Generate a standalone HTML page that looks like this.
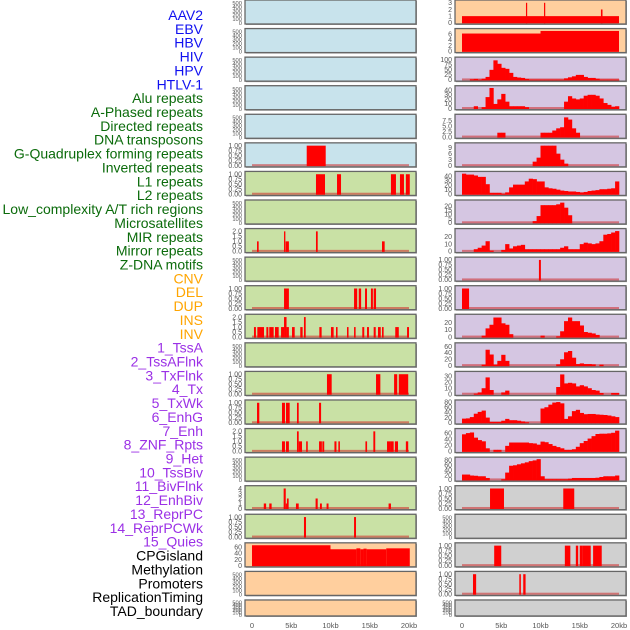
<!DOCTYPE html>
<html><head><meta charset="utf-8"><style>
html,body{margin:0;padding:0;background:#fff;}
svg{display:block;font-family:"Liberation Sans",sans-serif;}
</style></head><body>
<svg id="chart" width="630" height="630" viewBox="0 0 630 630" xmlns="http://www.w3.org/2000/svg"></svg>
<script>
// ---- labels ----
const labels = ["AAV2","EBV","HBV","HIV","HPV","HTLV-1","Alu repeats","A-Phased repeats","Directed repeats","DNA transposons","G-Quadruplex forming repeats","Inverted repeats","L1 repeats","L2 repeats","Low_complexity A/T rich regions","Microsatellites","MIR repeats","Mirror repeats","Z-DNA motifs","CNV","DEL","DUP","INS","INV","1_TssA","2_TssAFlnk","3_TxFlnk","4_Tx","5_TxWk","6_EnhG","7_Enh","8_ZNF_Rpts","9_Het","10_TssBiv","11_BivFlnk","12_EnhBiv","13_ReprPC","14_ReprPCWk","15_Quies","CPGisland","Methylation","Promoters","ReplicationTiming","TAD_boundary"];
const labelGroups = ["v","v","v","v","v","v","r","r","r","r","r","r","r","r","r","r","r","r","r","s","s","s","s","s","c","c","c","c","c","c","c","c","c","c","c","c","c","c","c","o","o","o","o","o"];
const xTicks = [0,5,10,15,20];
const xTickLabels = ["0","5kb","10kb","15kb","20kb"];

// ---- sparse block data: [startKb, endKb, value] ----
const htlvBlocks = [[6.97,9.39,1]];
const aluBlocks = [[8.15,9.3,1],[10.83,11.34,1],[17.7,18.34,1],[18.85,19.36,1],[19.6,20.1,1]];
const directedBlocks = [[0.64,0.85,1],[4.08,4.25,2],[4.29,4.7,1],[8.15,8.37,2],[16.56,16.9,1]];
const gquadBlocks = [[4.08,4.7,1],[13.0,13.4,1],[13.6,13.9,1],[14.4,14.65,1],[15.15,15.4,1],[15.5,15.8,1]];
const invertedBlocks = [[0.25,0.5,1],[0.68,1.53,1],[1.83,2.08,1],[2.2,2.76,1],[2.93,3.4,1],[3.7,4.08,1],[4.08,4.4,2],[4.4,4.7,1],[5.1,5.44,1],[6.15,6.45,1],[6.62,6.84,2],[8.58,8.87,1],[10.06,10.4,1],[10.7,10.9,1],[12.1,12.3,1],[13.0,13.2,1],[14.05,14.3,1],[14.65,14.9,1],[15.5,15.76,1],[16.05,16.4,1],[16.56,16.77,1],[18.25,18.7,1],[19.75,20.0,1]];
const l2Blocks = [[9.55,10.15,1],[15.8,16.35,1],[18.1,18.5,1],[18.7,19.9,1]];
const lowCompBlocks = [[0.64,0.93,1],[3.82,4.2,1],[4.33,4.8,1],[5.73,5.95,1],[8.54,8.8,1]];
const microBlocks = [[3.82,4.2,1],[4.33,4.7,1],[5.73,5.95,2],[5.95,6.37,1],[6.9,7.1,1],[8.54,8.9,1],[8.96,9.2,1],[10.5,10.76,1],[11.0,11.2,1],[14.45,14.66,1],[15.46,15.7,2],[17.2,17.7,1],[17.7,18.05,1],[18.2,18.6,1],[19.6,19.9,1]];
const mirrorBlocks = [[1.5,1.8,1],[2.2,2.5,1],[4.03,4.3,4],[4.3,4.45,1],[4.45,4.67,2],[5.6,5.95,1],[8.1,8.37,2],[8.66,8.9,1],[9.5,9.75,1],[17.4,17.7,1]];
const zdnaBlocks = [[6.62,6.88,1],[13.0,13.25,1]];
const cnvBlocks = [[0,10,66],[10,13.3,53],[13.3,13.8,56],[13.8,14.2,53],[14.2,14.6,55],[14.6,17.1,53],[17.1,20.1,56]];
const insBlocks = [[0,20,1],[8.15,8.3,3],[10.45,10.6,3],[17.7,17.9,2]];
const invBlocks = [[0,10,6.2],[10,20,7.1]];
const znfBlocks = [[9.8,10.05,1]];
const hetBlocks = [[0,0.9,1]];
const cpgBlocks = [[3.57,5.35,1],[12.9,14.3,1]];
const promBlocks = [[4.1,5.0,1],[13.1,13.8,1],[14.5,14.8,1],[15.0,15.4,1],[15.4,16.4,1],[16.7,17.8,1]];
const repTimeBlocks = [[1.4,1.8,1],[7.3,7.5,1],[7.8,8.1,1]];

// ---- dense binned data: 40 bins of 0.5kb ----
const tssA = [0,0,3,5,2,6,15,50,97,80,60,55,35,15,12,10,5,2,2,2,2,2,2,2,2,2,8,13,18,25,25,15,10,10,6,2,2,2,2,2];
const tssAFlnk = [0,0,0,5,0,3,25,45,10,20,32,15,5,5,5,5,3,0,0,0,0,0,0,0,0,0,15,27,22,20,22,28,30,30,28,22,12,8,4,5];
const txFlnk = [0,0,0,0,0,0,0,0,0,2,2,0,0,0,0,0,0,0,0,0,2,2,2,3,4,4.5,9,8,4,2,0,0,0,0,0,0,0,0,0,0];
const tx = [0,0,0,0,0,0,0,0,0,0,0,0,0,0,0,0,0,0,2,4,10,10,10,10,6,3,1,0,0,0,0,0,0,0,0,0,0,0,0,0];
const txWk = [45,43,43,41,38,38,22,3,3,3,1,4,15,21,21,21,28,34,33,28,28,15,13,12,10,8,7,6,6,5,4,5,7,8,9,11,11,12,13,28];
const enhG = [0,0,0,0,0,0,0,0,0,0,0,0,0,0,0,0,0,0,2,8,21,21,21,21,22,24,18,9,0,0,0,0,0,0,0,0,0,0,0,0];
const enh = [0,0,0,3,5,8,14,1,0,0,2,10,4,7,8,9,3,3,3,3,3,3,3,3,3,5,7,3,3,3,10,12,11,10,11,14,23,24,26,28];
const tssBiv = [0,0,0,0,0,2,12,17,27,27,19,17,4,0,0,0,0,0,0,0,2,0,0,0,1,8,22,27,22,22,16,7,6,5,3,0,0,0,0,0];
const bivFlnk = [0,0,0,0,0,3,50,35,3,15,34,15,0,0,0,0,0,0,0,0,0,0,0,0,4,20,42,46,25,5,7,5,5,4,0,3,0,0,0,0];
const enhBiv = [0,0,0,1,3,10,28,7,0,0,3,6,0,0,0,0,0,0,0,0,0,0,0,0,12,33,18,19,18,13,15,13,10,7,6,2,0,0,2,2];
const reprPC = [16,17,22,35,42,47,20,3,3,3,8,15,10,10,8,5,2,0,0,0,55,60,70,78,80,75,15,25,45,50,38,33,34,34,32,31,30,28,25,22];
const reprPCWk = [56,60,62,45,37,33,10,0,5,5,0,18,29,29,29,29,29,27,26,22,32,30,24,18,14,10,5,5,7,15,27,34,42,50,57,58,58,59,61,68];
const quies = [22,22,18,17,15,15,8,0,0,0,3,30,58,60,64,68,72,77,80,85,15,3,3,3,3,3,3,5,8,8,8,8,8,8,9,12,15,15,15,18];

// ---- tick label sets ----
const tEmpty = ["0","100","200","300","400","500"];
const tEmptyV = [0,100,200,300,400,500];
const tUnit = ["0.00","0.25","0.50","0.75","1.00"];
const tUnitV = [0,0.25,0.5,0.75,1];
const tTwo = ["0.0","0.5","1.0","1.5","2.0"];
const tTwoV = [0,0.5,1,1.5,2];

const BG = {blue:"#c8e3ec", green:"#c9e1a5", orange:"#ffcf9e", purple:"#d5c6e2", gray:"#d0d0d0"};

// panels: [col,row,bg,ymax,tickVals,tickLabels,blocks|null,bins|null]
const panels = [
 [0,0,"blue",525,tEmptyV,tEmpty,null,null],
 [0,1,"blue",525,tEmptyV,tEmpty,null,null],
 [0,2,"blue",525,tEmptyV,tEmpty,null,null],
 [0,3,"blue",525,tEmptyV,tEmpty,null,null],
 [0,4,"blue",525,tEmptyV,tEmpty,null,null],
 [0,5,"blue",1.05,tUnitV,tUnit,htlvBlocks,null],
 [0,6,"green",1.05,tUnitV,tUnit,aluBlocks,null],
 [0,7,"green",525,tEmptyV,tEmpty,null,null],
 [0,8,"green",2.1,tTwoV,tTwo,directedBlocks,null],
 [0,9,"green",525,tEmptyV,tEmpty,null,null],
 [0,10,"green",1.05,tUnitV,tUnit,gquadBlocks,null],
 [0,11,"green",2.1,tTwoV,tTwo,invertedBlocks,null],
 [0,12,"green",525,tEmptyV,tEmpty,null,null],
 [0,13,"green",1.05,tUnitV,tUnit,l2Blocks,null],
 [0,14,"green",1.05,tUnitV,tUnit,lowCompBlocks,null],
 [0,15,"green",2.1,tTwoV,tTwo,microBlocks,null],
 [0,16,"green",525,tEmptyV,tEmpty,null,null],
 [0,17,"green",4.2,[0,1,2,3,4],["0","1","2","3","4"],mirrorBlocks,null],
 [0,18,"green",1.05,tUnitV,tUnit,zdnaBlocks,null],
 [0,19,"orange",68,[0,20,40,60],["0","20","40","60"],cnvBlocks,null],
 [0,20,"orange",525,tEmptyV,tEmpty,null,null],
 [0,21,"orange",525,tEmptyV,tEmpty,null,null],
 [1,0,"orange",3.15,[0,1,2,3],["0","1","2","3"],insBlocks,null],
 [1,1,"orange",7.3,[0,2,4,6],["0","2","4","6"],invBlocks,null],
 [1,2,"purple",104,[0,25,50,75,100],["0","25","50","75","100"],null,tssA],
 [1,3,"purple",46,[0,10,20,30,40],["0","10","20","30","40"],null,tssAFlnk],
 [1,4,"purple",9.6,[0,2.5,5,7.5],["0.0","2.5","5.0","7.5"],null,txFlnk],
 [1,5,"purple",10.5,[0,3,6,9],["0","3","6","9"],null,tx],
 [1,6,"purple",46,[0,10,20,30,40],["0","10","20","30","40"],null,txWk],
 [1,7,"purple",25,[0,5,10,15,20],["0","5","10","15","20"],null,enhG],
 [1,8,"purple",29,[0,10,20],["0","10","20"],null,enh],
 [1,9,"purple",1.05,tUnitV,tUnit,znfBlocks,null],
 [1,10,"purple",1.05,tUnitV,tUnit,hetBlocks,null],
 [1,11,"purple",29,[0,10,20],["0","10","20"],null,tssBiv],
 [1,12,"purple",66,[0,20,40,60],["0","20","40","60"],null,bivFlnk],
 [1,13,"purple",35,[0,10,20,30],["0","10","20","30"],null,enhBiv],
 [1,14,"purple",81,[0,20,40,60,80],["0","20","40","60","80"],null,reprPC],
 [1,15,"purple",69,[0,20,40,60],["0","20","40","60"],null,reprPCWk],
 [1,16,"purple",86,[0,20,40,60,80],["0","20","40","60","80"],null,quies],
 [1,17,"gray",1.05,tUnitV,tUnit,cpgBlocks,null],
 [1,18,"gray",525,tEmptyV,tEmpty,null,null],
 [1,19,"gray",1.05,tUnitV,tUnit,promBlocks,null],
 [1,20,"gray",1.05,tUnitV,tUnit,repTimeBlocks,null],
 [1,21,"gray",525,tEmptyV,tEmpty,null,null]
];

const NS = "http://www.w3.org/2000/svg";
const svg = document.getElementById("chart");
function mk(tag, attrs, parent){
  const e = document.createElementNS(NS, tag);
  for (const k in attrs) e.setAttribute(k, attrs[k]);
  (parent||svg).appendChild(e);
  return e;
}
const colX = [245, 455];
const PW = 171, PITCH = 28.57;
function xScale(col, kb){ return colX[col] + 7 + kb * 7.85; }
function panelTop(row){ return row * PITCH; }
function panelH(row){ return row === 21 ? 16 : 24; }
function yScale(row, ymax, v){ const t = panelTop(row), h = panelH(row); return t + h - 1.2 - (v / ymax) * (h - 3); }

// labels
const labColors = {v:"#1010f0", r:"#0b6b0b", s:"#ffa500", c:"#9b30e6", o:"#000000"};
labels.forEach(function(txt, i){
  const t = mk("text", {x:203, y:(20 + i*13.86).toFixed(1), "text-anchor":"end", "font-size":"14", fill:labColors[labelGroups[i]]});
  t.textContent = txt;
  
  
});

panels.forEach(function(p){
  const col=p[0], row=p[1], bg=p[2], ymax=p[3], tv=p[4], tl=p[5], blocks=p[6], bins=p[7];
  const top = panelTop(row), h = panelH(row), x0 = colX[col];
  const g = mk("g", {});
  
  
  mk("rect", {x:x0+1, y:top+1, width:PW, height:h, fill:"#999"}, g);
  const bgr = mk("rect", {x:x0, y:top, width:PW, height:h, fill:BG[bg], stroke:"#666", "stroke-width":"1.3"}, g);
  
  
  const fs = tv === tEmptyV ? 5.8 : 7;
  tv.forEach(function(v, k){
    const t = mk("text", {x:x0-3, y:(yScale(row,ymax,v)+2.3).toFixed(1), "text-anchor":"end", "font-size":fs, fill:"#555"}, g);
    t.textContent = tl[k];
    
    
  });
  const hasData = blocks || bins;
  if (hasData && !(col===1 && row<2)) {
    const bl = mk("rect", {x:xScale(col,0), y:yScale(row,ymax,0)-1.5, width:xScale(col,20)-xScale(col,0), height:2, fill:"rgba(205,40,40,0.55)"}, g);
    
    
  }
  const y0 = yScale(row, ymax, 0);
  if (blocks) {
    blocks.forEach(function(b){
      const xa = xScale(col,b[0]), xb = xScale(col,b[1]);
      const yv = yScale(row,ymax,b[2]);
      const r = mk("rect", {x:xa.toFixed(2), y:yv.toFixed(2), width:Math.max(1.2, xb-xa).toFixed(2), height:(y0-yv+0.5).toFixed(2), fill:"#ff0000"}, g);
      
      
    });
  }
  if (bins) {
    bins.forEach(function(v, i){
      if (v <= 0) return;
      const xa = xScale(col, i*0.5), xb = xScale(col, (i+1)*0.5);
      const yv = yScale(row, ymax, v);
      const r = mk("rect", {x:xa.toFixed(2), y:yv.toFixed(2), width:(xb-xa+0.3).toFixed(2), height:(y0-yv+0.5).toFixed(2), fill:"#ff0000"}, g);
      
      
    });
  }
});

// x axes
[0,1].forEach(function(col){
  xTicks.forEach(function(v, k){
    const t = mk("text", {x:xScale(col,v).toFixed(1), y:628, "text-anchor":"middle", "font-size":"7.5", fill:"#555"});
    t.textContent = xTickLabels[k];
    
    
  });
});
</script>
</body></html>
